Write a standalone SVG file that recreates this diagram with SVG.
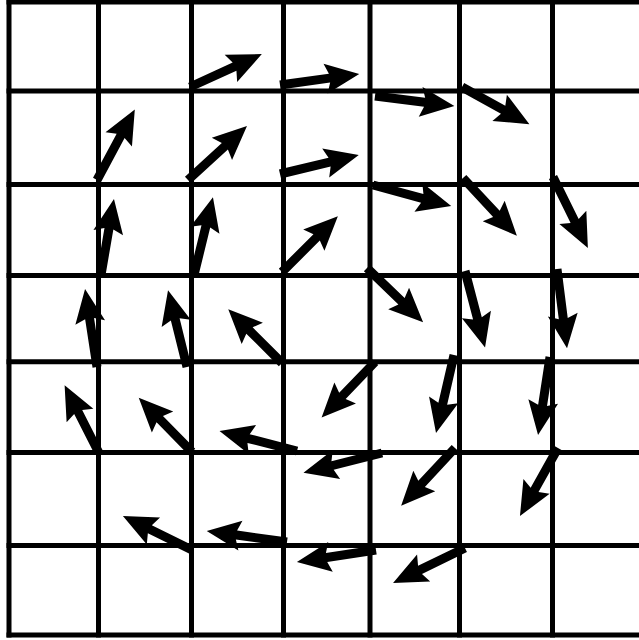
<svg xmlns="http://www.w3.org/2000/svg" xmlns:xlink="http://www.w3.org/1999/xlink" width="639" height="640" viewBox="0 0 639 640">
<defs>
<style>
.g line{stroke:#000;stroke-width:5;stroke-linecap:square}
.ar use{fill:#000}
</style>
<path id="a76" d="M0,-4.5H46L42,-15L76,0L42,15L46,4.5H0Z"/>
<path id="a77" d="M0,-4.5H47L43,-15L77,0L43,15L47,4.5H0Z"/>
<path id="a78" d="M0,-4.5H48L44,-15L78,0L44,15L48,4.5H0Z"/>
<path id="a79" d="M0,-4.5H49L45,-15L79,0L45,15L49,4.5H0Z"/>
<path id="a80" d="M0,-4.5H50L46,-15L80,0L46,15L50,4.5H0Z"/>
<path id="a81" d="M0,-4.5H51L47,-15L81,0L47,15L51,4.5H0Z"/>
</defs>
<rect width="639" height="640" fill="#fff"/>
<g id="grid" class="g">
<line x1="9" y1="2" x2="9" y2="635"/>
<line x1="98.5" y1="2" x2="98.5" y2="635"/>
<line x1="191.5" y1="2" x2="191.5" y2="635"/>
<line x1="283.5" y1="2" x2="283.5" y2="635"/>
<line x1="370" y1="2" x2="370" y2="635"/>
<line x1="459.5" y1="2" x2="459.5" y2="635"/>
<line x1="552.5" y1="2" x2="552.5" y2="635"/>
<line x1="9" y1="2" x2="645" y2="2"/>
<line x1="9" y1="91" x2="645" y2="91"/>
<line x1="9" y1="184.5" x2="645" y2="184.5"/>
<line x1="9" y1="275.5" x2="645" y2="275.5"/>
<line x1="9" y1="361.7" x2="645" y2="361.7"/>
<line x1="9" y1="452.5" x2="645" y2="452.5"/>
<line x1="9" y1="545.5" x2="645" y2="545.5"/>
<line x1="9" y1="635" x2="645" y2="635"/>
</g>
<g id="arrows" class="ar">
<use xlink:href="#a79" href="#a79" transform="translate(190 87) rotate(-24.6)"/>
<use xlink:href="#a80" href="#a80" transform="translate(280 85) rotate(-7.9)"/>
<use xlink:href="#a80" href="#a80" transform="translate(375 96) rotate(7.2)"/>
<use xlink:href="#a77" href="#a77" transform="translate(462 87) rotate(28.9)"/>
<use xlink:href="#a80" href="#a80" transform="translate(97 180) rotate(-61.8)"/>
<use xlink:href="#a80" href="#a80" transform="translate(188 180) rotate(-42.5)"/>
<use xlink:href="#a81" href="#a81" transform="translate(280 174) rotate(-13.5)"/>
<use xlink:href="#a81" href="#a81" transform="translate(373 185) rotate(15.1)"/>
<use xlink:href="#a79" href="#a79" transform="translate(463 178) rotate(47)"/>
<use xlink:href="#a79" href="#a79" transform="translate(553 177) rotate(63.8)"/>
<use xlink:href="#a77" href="#a77" transform="translate(101 275) rotate(-80.3)"/>
<use xlink:href="#a80" href="#a80" transform="translate(194 275) rotate(-76.3)"/>
<use xlink:href="#a79" href="#a79" transform="translate(282 272) rotate(-45)"/>
<use xlink:href="#a78" href="#a78" transform="translate(367 268) rotate(44)"/>
<use xlink:href="#a79" href="#a79" transform="translate(465 271) rotate(75.3)"/>
<use xlink:href="#a80" href="#a80" transform="translate(557 269) rotate(82.8)"/>
<use xlink:href="#a79" href="#a79" transform="translate(97 367) rotate(-98.7)"/>
<use xlink:href="#a79" href="#a79" transform="translate(187 367) rotate(-103.9)"/>
<use xlink:href="#a76" href="#a76" transform="translate(282 363) rotate(-135)"/>
<use xlink:href="#a77" href="#a77" transform="translate(375 362) rotate(133.9)"/>
<use xlink:href="#a80" href="#a80" transform="translate(454 355) rotate(103)"/>
<use xlink:href="#a79" href="#a79" transform="translate(550 357) rotate(98.7)"/>
<use xlink:href="#a76" href="#a76" transform="translate(99 453) rotate(-116.9)"/>
<use xlink:href="#a76" href="#a76" transform="translate(192 452) rotate(-134.5)"/>
<use xlink:href="#a80" href="#a80" transform="translate(297 451) rotate(-165.6)"/>
<use xlink:href="#a81" href="#a81" transform="translate(382 453) rotate(165.8)"/>
<use xlink:href="#a79" href="#a79" transform="translate(455 448) rotate(133)"/>
<use xlink:href="#a78" href="#a78" transform="translate(558 448) rotate(119.2)"/>
<use xlink:href="#a77" href="#a77" transform="translate(192 550) rotate(-153.8)"/>
<use xlink:href="#a81" href="#a81" transform="translate(287 542) rotate(-172.2)"/>
<use xlink:href="#a80" href="#a80" transform="translate(376 550) rotate(171.4)"/>
<use xlink:href="#a80" href="#a80" transform="translate(465 548) rotate(154.1)"/>
</g>
</svg>
